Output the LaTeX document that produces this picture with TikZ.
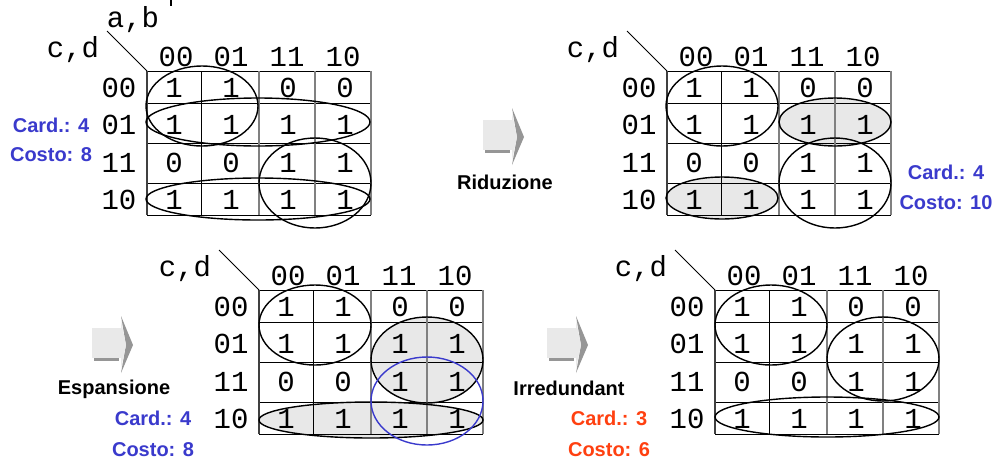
\documentclass[tikz,border=0pt]{standalone}
\usepackage{fontspec}
\setmainfont{Liberation Sans}
\setmonofont{Liberation Mono}
\definecolor{costblue}{RGB}{58,58,204}
\definecolor{costred}{RGB}{255,64,16}
\definecolor{shadegray}{RGB}{232,232,232}
\definecolor{gridgray}{RGB}{128,128,128}
\definecolor{arrowface}{RGB}{233,233,233}
\definecolor{arrowdark}{RGB}{150,150,150}

\tikzset{
  kdigit/.style={font=\ttfamily\fontsize{29}{29}\selectfont, inner sep=0pt},
  kline/.style={line width=1pt, black},
  kedge/.style={line width=1.2pt, black!75},
  kmid/.style={line width=1.6pt, gridgray},
  implicant/.style={line width=1.4pt, black},
  impfill/.style={fill=shadegray},
  steplabel/.style={font=\bfseries\fontsize{20}{20}\selectfont, inner sep=0pt},
  costlabel/.style={font=\bfseries\fontsize{20}{20}\selectfont, inner sep=0pt}
}

% one karnaugh map, origin at its top left corner
\newcommand{\kmap}[1]{%
  \foreach \y in {0,32,72,112,144} \draw[kline] (0,\y) -- (224,\y);
  \draw[kedge] (0,0) -- (0,144);
  \draw[kline] (54,0) -- (54,144);
  \foreach \x in {112,168,224} \draw[kmid] (\x,0) -- (\x,144);
  \coordinate (#1-corner) at (0,0);
  \coordinate (#1-tick) at (-40,-40);
  \draw[kline] (#1-tick) -- (#1-corner);
  \node[kdigit] (#1-cd) at (-74,-21) {c,d};
  \foreach \lab/\x [count=\c] in {00/29,01/84,11/140,10/196}
    \node[kdigit] (#1-col\c) at (\x,-14) {\lab};
  \foreach \lab/\y [count=\r] in {00/17,01/54,11/92,10/129}
    \node[kdigit] (#1-row\r) at (-28,\y) {\lab};
  \foreach \y/\va/\vb/\vc/\vd [count=\r] in {17/1/1/0/0,54/1/1/1/1,92/0/0/1/1,129/1/1/1/1} {
    \node[kdigit] (#1-\r-1) at (27,\y) {\va};
    \node[kdigit] (#1-\r-2) at (84,\y) {\vb};
    \node[kdigit] (#1-\r-3) at (141,\y) {\vc};
    \node[kdigit] (#1-\r-4) at (198,\y) {\vd};
  }
}

% grey block arrow, origin at the top left of its body
\newcommand{\steparrow}[2]{%
  \begin{scope}[shift={(#1,#2)}]
    \fill[arrowface] (0,0) rectangle (29,30);
    \draw[arrowdark, line width=3pt] (2,31.5) -- (27,31.5);
    \fill[arrowdark] (29,-12) -- (41,17) -- (29,45) -- (34,17) -- cycle;
    \fill[arrowface] (29,-7) -- (34,17) -- (29,40) -- cycle;
  \end{scope}
}

\begin{document}
\begin{tikzpicture}[x=1pt,y=-1pt]
\useasboundingbox (0,0) rectangle (1000,464);

\draw[line width=2pt] (171,0) -- (171,6);

% top left: start cover
\begin{scope}[shift={(147,71)}]
  \kmap{tl}
  \node[kdigit] (tl-ab) at (-14,-51) {a,b};
  \draw[implicant] (55,35) ellipse [x radius=56, y radius=40];
  \draw[implicant] (111,51) ellipse [x radius=112, y radius=24];
  \draw[implicant] (168,112) ellipse [x radius=56, y radius=45];
  \draw[implicant] (111,128) ellipse [x radius=112, y radius=21];
\end{scope}
\node[costlabel, costblue] (tl-card) at (51,125) {Card.: 4};
\node[costlabel, costblue] (tl-cost) at (51,155) {Costo: 8};

% top right: after reduction
\steparrow{483}{120}
\node[steplabel] (riduzione) at (505,182) {Riduzione};
\begin{scope}[shift={(667,71)}]
  \path[impfill] (168,51) ellipse [x radius=56, y radius=24];
  \path[impfill] (55,127) ellipse [x radius=56, y radius=21];
  \kmap{tr}
  \draw[implicant] (55,35) ellipse [x radius=56, y radius=40];
  \draw[implicant] (168,51) ellipse [x radius=56, y radius=24];
  \draw[implicant] (168,112) ellipse [x radius=56, y radius=45];
  \draw[implicant] (55,127) ellipse [x radius=56, y radius=21];
\end{scope}
\node[costlabel, costblue] (tr-card) at (946,172) {Card.: 4};
\node[costlabel, costblue] (tr-cost) at (946,203) {Costo: 10};

% bottom left: after expansion
\steparrow{92}{328}
\node[steplabel] (espansione) at (114,389) {Espansione};
\node[costlabel, costblue] (bl-card) at (153,418) {Card.: 4};
\node[costlabel, costblue] (bl-cost) at (153,450) {Costo: 8};
\begin{scope}[shift={(259,290)}]
  \path[impfill] (168,70) ellipse [x radius=56, y radius=43];
  \path[impfill] (112,130) ellipse [x radius=112, y radius=18];
  \kmap{bl}
  \draw[implicant] (56,35) ellipse [x radius=56, y radius=40];
  \draw[implicant] (168,70) ellipse [x radius=56, y radius=43];
  \draw[implicant] (112,130) ellipse [x radius=112, y radius=18];
  \draw[implicant, costblue] (168,111) ellipse [x radius=56, y radius=44];
\end{scope}

% bottom right: irredundant cover
\steparrow{547}{328}
\node[steplabel] (irredundant) at (569,388) {Irredundant};
\node[costlabel, costred] (br-card) at (609,418) {Card.: 3};
\node[costlabel, costred] (br-cost) at (609,450) {Costo: 6};
\begin{scope}[shift={(715,290)}]
  \kmap{br}
  \draw[implicant] (56,35) ellipse [x radius=56, y radius=40];
  \draw[implicant] (168,69) ellipse [x radius=56, y radius=42];
  \draw[implicant] (112,127) ellipse [x radius=112, y radius=20];
\end{scope}
\end{tikzpicture}
\end{document}
